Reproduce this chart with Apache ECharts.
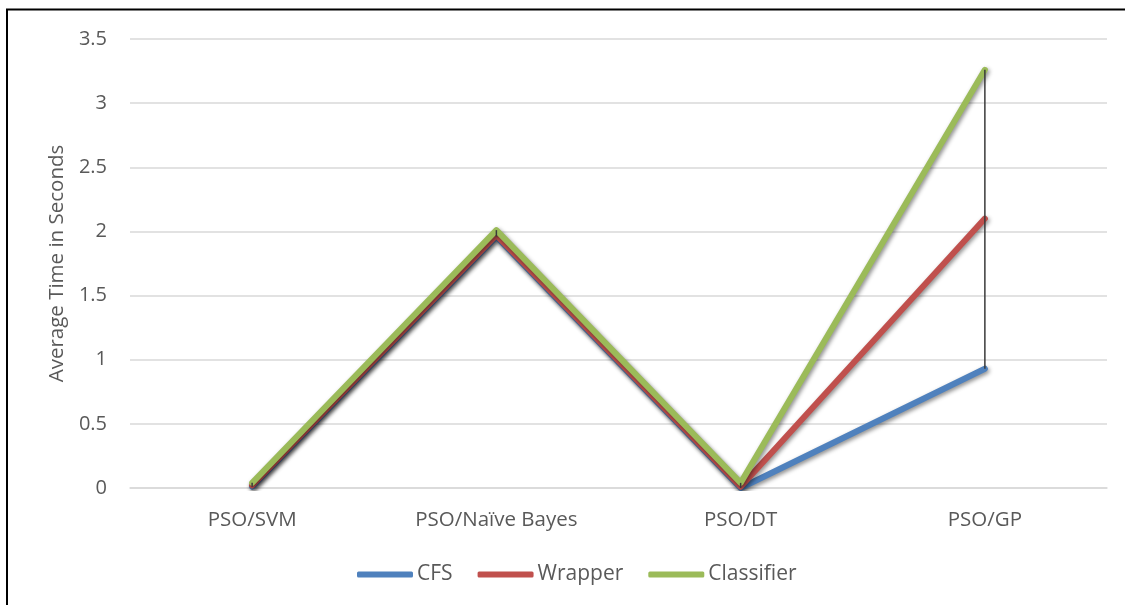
<!DOCTYPE html>
<html>
<head>
<meta charset="utf-8">
<script src="https://cdn.jsdelivr.net/npm/echarts@6/dist/echarts.min.js"></script>
<style>
html,body{margin:0;padding:0;background:#fff;}
#chart{width:1125px;height:605px;}
</style>
</head>
<body>
<div id="chart"></div>
<script>
var categories = ['PSO/SVM', 'PSO/Naïve Bayes', 'PSO/DT', 'PSO/GP'];
var cfs = [0.01, 1.96, 0.00, 0.93];
var wrapper = [0.02, 1.97, 0.01, 2.10];
var classifier = [0.04, 2.01, 0.04, 3.26];
var yTicks = [0, 0.5, 1, 1.5, 2, 2.5, 3, 3.5];

var hiLo = categories.map(function (c, i) {
  var v = [cfs[i], wrapper[i], classifier[i]];
  return [i, Math.min.apply(null, v), Math.max.apply(null, v)];
});

var FONT = 'Open Sans';
var TXT = '#595959';
function lineSeries(name, data, color) {
  return {
    name: name, type: 'line', data: data, symbol: 'none',
    itemStyle: { color: color },
    lineStyle: { color: color, width: 6, cap: 'round', join: 'round',
      shadowColor: 'rgba(0,0,0,0.45)', shadowBlur: 4, shadowOffsetX: 1.5, shadowOffsetY: 2 },
    z: 2
  };
}

var chart = echarts.init(document.getElementById('chart'));
chart.setOption({
  animation: false,
  backgroundColor: '#fff',
  textStyle: { fontFamily: FONT },
  graphic: [{
    type: 'rect', silent: true, z: 100,
    shape: { x: 7, y: 9.5, width: 1200, height: 700 },
    style: { fill: 'none', stroke: '#000', lineWidth: 2 }
  }],
  grid: { left: 130, right: 18, top: 39, bottom: 117, containLabel: false },
  legend: {
    bottom: 15, left: 352,
    icon: 'roundRect', itemWidth: 56, itemHeight: 6, itemGap: 25,
    textStyle: { fontFamily: FONT, fontSize: 21, color: TXT, padding: [0, 0, 0, -1] },
    data: ['CFS', 'Wrapper', 'Classifier']
  },
  xAxis: {
    type: 'category', data: categories, boundaryGap: true,
    axisLine: { lineStyle: { color: '#d9d9d9', width: 1.5 } },
    axisTick: { show: false },
    axisLabel: { fontFamily: FONT, fontSize: 20.5, color: TXT, margin: 22 }
  },
  yAxis: {
    type: 'value', min: 0, max: 3.5, interval: 0.5,
    name: 'Average Time in Seconds', nameLocation: 'middle', nameGap: 62,
    nameTextStyle: { fontFamily: FONT, fontSize: 20.5, color: TXT },
    axisLine: { show: false }, axisTick: { show: false },
    axisLabel: { fontFamily: FONT, fontSize: 20, color: TXT, margin: 23,
      formatter: function (v) { return yTicks.indexOf(v) >= 0 ? String(v) : ''; } },
    splitLine: { lineStyle: { color: '#d9d9d9', width: 1.5 } }
  },
  series: [
    lineSeries('CFS', cfs, '#4F81BD'),
    lineSeries('Wrapper', wrapper, '#C0504D'),
    lineSeries('Classifier', classifier, '#9BBB59'),
    {
      name: 'hilo', type: 'custom', data: hiLo, z: 5,
      renderItem: function (params, api) {
        var p1 = api.coord([api.value(0), api.value(1)]);
        var p2 = api.coord([api.value(0), api.value(2)]);
        return { type: 'line', shape: { x1: p1[0], y1: p1[1], x2: p2[0], y2: p2[1] },
          style: { stroke: '#3a3a3a', lineWidth: 1.5 } };
      },
      encode: { x: 0, y: [1, 2] }
    }
  ]
});
</script>
</body>
</html>
